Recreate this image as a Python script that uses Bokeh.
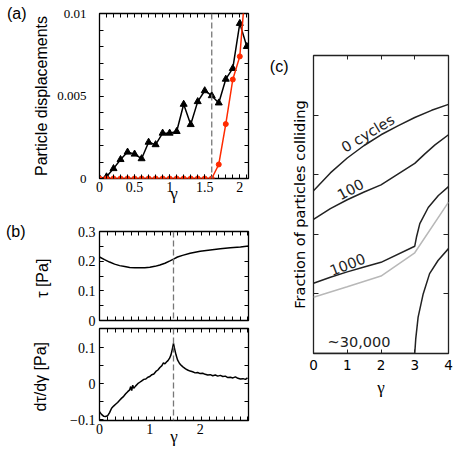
from bokeh.plotting import figure
from bokeh.layouts import column, row
from bokeh.models import LinearAxis, FixedTicker, Label, Span, Range1d
from bokeh.embed import file_html
from bokeh.resources import INLINE
import math

# ---------------- data ----------------
# (a) particle displacements vs strain amplitude
gamma_a = [0.0, 0.1, 0.2, 0.3, 0.4, 0.5, 0.6, 0.7, 0.8, 0.9, 1.0,
           1.1, 1.2, 1.3, 1.4, 1.5, 1.6, 1.7, 1.8, 1.9, 2.0, 2.1]
disp_black = [0.0, 0.0001, 0.0006, 0.00115, 0.0016, 0.00148, 0.0012, 0.0022,
              0.00205, 0.00275, 0.00275, 0.00285, 0.0045, 0.00327, 0.00466,
              0.00532, 0.00502, 0.00458, 0.00602, 0.00667, 0.0094, 0.0080]
disp_red = [0.0, 0.0, 0.0, 0.0, 0.0, 0.0, 0.0, 0.0, 0.0, 0.0, 0.0,
            0.0, 0.0, 0.0, 0.0, 0.0, 0.0, 0.00085, 0.0033, 0.0060, 0.0074, 0.0126]
gamma_onset_a = 1.6

# (b) stress and its derivative
gamma_tau = [0.0, 0.1, 0.2, 0.3, 0.4, 0.5, 0.6, 0.7, 0.8, 0.9, 1.0, 1.1, 1.2,
             1.3, 1.4, 1.47, 1.55, 1.65, 1.8, 2.0, 2.2, 2.4, 2.6, 2.8, 2.96]
tau_pa = [0.214, 0.205, 0.197, 0.190, 0.185, 0.182, 0.179, 0.178, 0.1775, 0.178,
          0.1795, 0.1825, 0.187, 0.193, 0.201, 0.207, 0.214, 0.2195, 0.2265,
          0.2335, 0.238, 0.2415, 0.245, 0.248, 0.251]
gamma_dtau = [0.0, 0.04, 0.08, 0.12, 0.16, 0.20, 0.24, 0.28, 0.32, 0.36, 0.40,
              0.44, 0.48, 0.52, 0.56, 0.60, 0.62, 0.64, 0.66, 0.68, 0.72, 0.76,
              0.80, 0.84, 0.88, 0.92, 0.96, 1.00, 1.04, 1.08, 1.12, 1.16, 1.20,
              1.24, 1.27, 1.30, 1.33, 1.36, 1.39, 1.42, 1.45, 1.47, 1.49, 1.52,
              1.55, 1.59, 1.63, 1.67, 1.71, 1.75, 1.80, 1.85, 1.90, 1.95, 2.00,
              2.05, 2.10, 2.15, 2.20, 2.25, 2.30, 2.35, 2.40, 2.45, 2.50, 2.55,
              2.60, 2.65, 2.70, 2.75, 2.80, 2.85, 2.90, 2.94]
dtau_pa = [-0.078, -0.085, -0.090, -0.091, -0.089, -0.080, -0.068, -0.062, -0.057,
           -0.052, -0.046, -0.040, -0.035, -0.028, -0.022, -0.017, -0.008, -0.019,
           -0.004, -0.013, -0.006, 0.000, 0.004, 0.008, 0.012, 0.013, 0.018, 0.020,
           0.025, 0.027, 0.034, 0.038, 0.045, 0.050, 0.058, 0.055, 0.060, 0.064,
           0.070, 0.080, 0.098, 0.112, 0.098, 0.080, 0.066, 0.056, 0.050, 0.045,
           0.041, 0.038, 0.035, 0.033, 0.030, 0.031, 0.028, 0.029, 0.026, 0.024,
           0.025, 0.022, 0.024, 0.021, 0.023, 0.020, 0.021, 0.017, 0.018, 0.016,
           0.019, 0.015, 0.013, 0.014, 0.012, 0.016]
gamma_onset_b = 1.47

# (c) fraction of particles colliding
c0_gamma = [0.0, 0.5, 1.0, 1.5, 2.0, 2.5, 3.0, 3.5, 4.0]
c0_frac = [2.73, 3.03, 3.28, 3.49, 3.67, 3.82, 3.96, 4.08, 4.18]
c100_gamma = [0.0, 0.5, 1.0, 1.5, 2.0, 3.0, 3.3, 3.6, 4.0]
c100_frac = [2.25, 2.43, 2.58, 2.71, 2.83, 3.19, 3.35, 3.50, 3.67]
c1000_gamma = [0.0, 0.5, 1.0, 1.5, 2.0, 3.0, 3.05, 3.15, 3.4, 3.7, 4.0]
c1000_frac = [1.18, 1.28, 1.37, 1.45, 1.53, 1.80, 1.95, 2.18, 2.45, 2.65, 2.80]
cgray_gamma = [0.0, 1.0, 2.0, 3.0, 4.0]
cgray_frac = [0.945, 1.12, 1.30, 1.69, 2.54]
c30k_gamma = [0.0, 3.0, 3.03, 3.1, 3.25, 3.44, 3.69, 4.0]
c30k_frac = [0.0, 0.0, 0.25, 0.61, 1.0, 1.34, 1.56, 1.76]
c_texts = ["0 cycles", "100", "1000", "~30,000"]
panel_tags = ["(a)", "(b)", "(c)"]

# ---------------- styling ----------------
SERIF = "Liberation Serif"
SANS = "Liberation Sans"
DJV = "DejaVu Sans"
RED = "#ff2a00"
DARK = "#222222"


def make_fig(w, h, xr, yr, ml, mr, mt, mb, outline="black"):
    p = figure(width=w, height=h, x_range=Range1d(*xr), y_range=Range1d(*yr),
               output_backend="svg", toolbar_location=None, title=None,
               min_border_left=ml, min_border_right=mr,
               min_border_top=mt, min_border_bottom=mb)
    p.xgrid.visible = False
    p.ygrid.visible = False
    p.outline_line_color = outline
    p.outline_line_width = 1.3
    p.outline_line_alpha = 1.0
    p.background_fill_color = "white"
    p.border_fill_color = "white"
    return p


def style_axis(ax, ticks, minor, major_len, minor_len, font=SERIF, size="13px",
               standoff=4, overrides=None, color="black"):
    ax.ticker = FixedTicker(ticks=ticks, minor_ticks=minor)
    ax.axis_line_color = None
    ax.major_tick_in = major_len
    ax.major_tick_out = 0
    ax.minor_tick_in = minor_len
    ax.minor_tick_out = 0
    ax.major_tick_line_color = color if major_len > 0 else None
    ax.minor_tick_line_color = color if minor_len > 0 else None
    ax.major_tick_line_width = 1
    ax.minor_tick_line_width = 1
    ax.major_label_text_font = font
    ax.major_label_text_font_size = size
    ax.major_label_text_color = "black"
    ax.major_label_standoff = standoff
    if overrides:
        ax.major_label_overrides = overrides


def tick_only_axis(p, place, positions, length, color="black"):
    ax = LinearAxis()
    style_axis(ax, [], positions, 0, length, standoff=0, color=color)
    p.add_layout(ax, place)
    return ax


def axis_label(ax, text, font, size, standoff):
    ax.axis_label = text
    ax.axis_label_text_font = font
    ax.axis_label_text_font_style = "normal"
    ax.axis_label_text_font_size = size
    ax.axis_label_text_color = "black"
    ax.axis_label_standoff = standoff


def tag_axis(p, ypos, text, standoff):
    # outer left axis that only carries the panel tag as its single tick label
    ax = LinearAxis()
    style_axis(ax, [ypos], [], 0, 0, font=SANS, size="16px", standoff=standoff,
               overrides={ypos: text})
    ax.major_label_orientation = "horizontal"
    p.add_layout(ax, "left")
    return ax


# ---------------- panel (a) ----------------
pa = make_fig(258, 222, (0, 2.124), (0, 0.01), 99, 10, 13, 44)
xa_ticks = [0, 0.5, 1, 1.5, 2]
xa_minor = [round(0.1 * k, 2) for k in range(22)]
ya_ticks = [0, 0.005, 0.01]
ya_minor = [round(0.001 * k, 4) for k in range(11)]
ax_a_x = pa.xaxis[0]
ax_a_y = pa.yaxis[0]
style_axis(ax_a_x, xa_ticks, xa_minor, 4, 4, size="14px", standoff=3,
           overrides={1: "1", 2: "2", 0: "0"})
style_axis(ax_a_y, ya_ticks, ya_minor, 4, 4, size="13px", standoff=13,
           overrides={0: "0", 0.01: "0.01"})
tick_only_axis(pa, "above", xa_minor, 4)
tick_only_axis(pa, "right", ya_minor, 4)
axis_label(ax_a_x, "γ", SERIF, "17px", -11)
axis_label(ax_a_y, "Particle displacements", SANS, "16px", 4)
tag_axis(pa, 0.01, panel_tags[0], 4)
pa.add_layout(Span(location=gamma_onset_a, dimension="height", line_color="#777777",
                   line_dash="6 3", line_width=1.3))
pa.line(gamma_a, disp_black, line_color="black", line_width=1.5)
pa.scatter(gamma_a, disp_black, marker="triangle", size=7, fill_color="black",
           line_color="black")
pa.line(gamma_a, disp_red, line_color=RED, line_width=1.5)
pa.scatter(gamma_a, disp_red, marker="circle", size=5, fill_color=RED, line_color=RED)

# ---------------- panel (b) ----------------
xb_ticks = [0, 1, 2]
xb_minor = [round(0.165 + 0.1547 * k, 3) for k in range(19)]
pb1 = make_fig(258, 105, (0, 2.96), (0, 0.3), 99, 10, 9, 7)
yb1_ticks = [0, 0.1, 0.2, 0.3]
yb1_minor = [0.05, 0.1, 0.15, 0.2, 0.25]
ax_b1_x = pb1.xaxis[0]
ax_b1_y = pb1.yaxis[0]
style_axis(ax_b1_x, [], xb_minor, 0, 4, standoff=0)
style_axis(ax_b1_y, yb1_ticks, yb1_minor, 4, 4, size="14px", standoff=4,
           overrides={0: "0"})
tick_only_axis(pb1, "above", xb_minor, 4)
tick_only_axis(pb1, "right", yb1_minor, 4)
axis_label(ax_b1_y, "τ  [Pa]", SANS, "16px", 24)
tag_axis(pb1, 0.3, panel_tags[1], 5)
pb1.add_layout(Span(location=gamma_onset_b, dimension="height", line_color="#777777",
                    line_dash="6 3", line_width=1.3))
pb1.line(gamma_tau, tau_pa, line_color="black", line_width=1.5)

pb2 = make_fig(258, 133, (0, 2.96), (-0.102, 0.153), 99, 10, 1, 40)
yb2_ticks = [-0.1, 0, 0.1]
yb2_minor = [-0.05, 0, 0.05, 0.1]
ax_b2_x = pb2.xaxis[0]
ax_b2_y = pb2.yaxis[0]
style_axis(ax_b2_x, xb_ticks, xb_minor, 0, 4, size="14px", standoff=3,
           overrides={0: "0", 1: "1", 2: "2"})
style_axis(ax_b2_y, yb2_ticks, yb2_minor, 4, 4, size="14px", standoff=4,
           overrides={-0.1: "\u22120.1", 0: "0"})
tick_only_axis(pb2, "above", xb_minor, 4)
tick_only_axis(pb2, "right", yb2_minor, 4)
axis_label(ax_b2_x, "γ", SERIF, "17px", -10)
axis_label(ax_b2_y, "dτ/dγ  [Pa]", SANS, "16px", 18)
pb2.add_layout(Span(location=gamma_onset_b, dimension="height", line_color="#777777",
                    line_dash="6 3", line_width=1.3))
pb2.line(gamma_dtau, dtau_pa, line_color="black", line_width=1.5)

# ---------------- panel (c) ----------------
pc = make_fig(198, 460, (0, 4), (0, 5), 55, 8, 55, 107, outline=DARK)
xc_ticks = [0, 1, 2, 3, 4]
ax_c_x = pc.xaxis[0]
ax_c_y = pc.yaxis[0]
style_axis(ax_c_x, xc_ticks, [], 4, 0, font=DJV, size="13.5px", standoff=6, color=DARK)
style_axis(ax_c_y, [], [1, 2, 3, 4], 0, 5, standoff=0, color=DARK)
tick_only_axis(pc, "above", [1, 2, 3], 4, color=DARK)
tick_only_axis(pc, "right", [1, 2, 3, 4], 5, color=DARK)
axis_label(ax_c_x, "γ", SERIF, "17px", 5)
axis_label(ax_c_y, "Fraction of particles colliding", DJV, "14.5px", 6)
tag_axis(pc, 4.81, panel_tags[2], 0)
pc.line(cgray_gamma, cgray_frac, line_color="#b8b8b8", line_width=1.5)
pc.line(c0_gamma, c0_frac, line_color=DARK, line_width=1.5)
pc.line(c100_gamma, c100_frac, line_color=DARK, line_width=1.5)
pc.line(c1000_gamma, c1000_frac, line_color=DARK, line_width=1.5)
pc.line(c30k_gamma, c30k_frac, line_color=DARK, line_width=1.5)
label_pos = [(1.61, 3.69, 31), (1.10, 2.75, 28), (1.01, 1.49, 21), (1.35, 0.19, 0)]
for txt, (lx, ly, ang) in zip(c_texts, label_pos):
    pc.add_layout(Label(x=lx, y=ly, text=txt, text_font=DJV, text_font_size="14.5px",
                        text_color=DARK, angle=math.radians(ang),
                        text_align="center", text_baseline="middle"))

layout = row(column(pa, pb1, pb2), pc)
open("out.html", "w").write(file_html(layout, INLINE))
